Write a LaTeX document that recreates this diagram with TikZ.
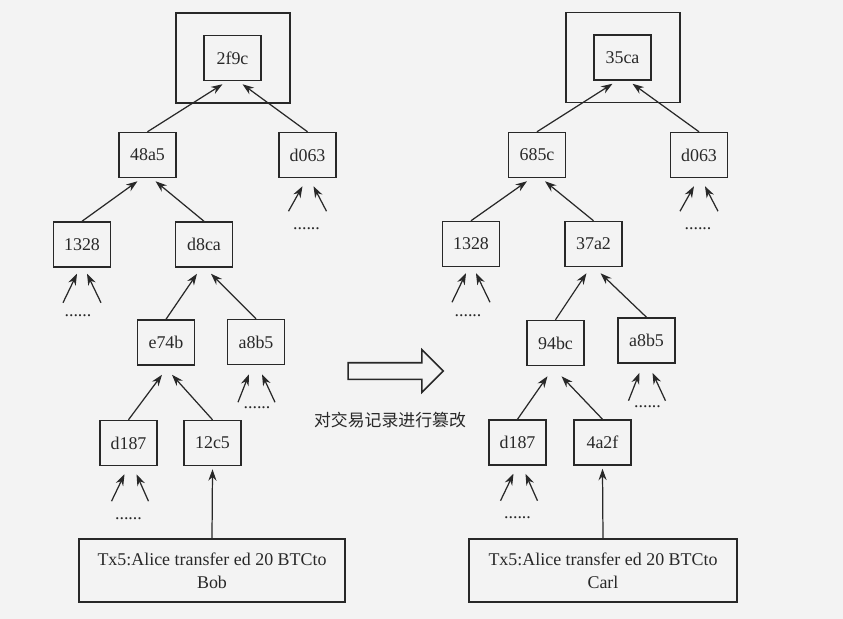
\documentclass[tikz,border=0pt]{standalone}
\usepackage{fontspec}
\setmainfont{Liberation Serif}
\newfontfamily\cjkfont{Noto Sans CJK SC}
\usetikzlibrary{arrows.meta,calc,shapes.arrows}
\definecolor{InkGray}{RGB}{40,40,40}
\definecolor{PaperGray}{RGB}{243,243,243}

\begin{document}
\begin{tikzpicture}[x=0.02cm, y=-0.02cm,
  every node/.style={font=\fontsize{10.2}{13}\selectfont, align=center, text=InkGray},
  hashbox/.style={draw=InkGray, line width=0.85pt, minimum width=1.14cm,
        minimum height=0.9cm, inner sep=0pt},
  rootbox/.style={draw=InkGray, line width=0.85pt, minimum width=2.28cm,
        minimum height=1.8cm, inner sep=0pt},
  txbox/.style={draw=InkGray, line width=0.85pt, minimum width=5.32cm,
        minimum height=1.26cm},
  link/.style={-{Stealth[length=6.5pt,width=4.6pt]}, line width=0.7pt, InkGray},
  dots/.style={anchor=base, inner sep=0pt}]
  \fill[PaperGray] (0,0) rectangle (843,619);
  \useasboundingbox (0,0) rectangle (843,619);

  % left tree: original record
  \node[rootbox] (Lroot) at (233,58) {};
  \node[hashbox] (L2f9c) at (232.5,58) {2f9c};
  \node[hashbox] (L48a5) at (147.5,155) {48a5};
  \node[hashbox] (Ld063) at (307.5,155) {d063};
  \node[hashbox] (L1328) at (82,244.5) {1328};
  \node[hashbox] (Ld8ca) at (204,244.5) {d8ca};
  \node[hashbox] (Le74b) at (166,342.5) {e74b};
  \node[hashbox] (La8b5) at (256,342) {a8b5};
  \node[hashbox] (Ld187) at (128.5,443) {d187};
  \node[hashbox] (L12c5) at (212.5,443) {12c5};
  \node[txbox] (Ltx) at (212,570.5) {Tx5:Alice transfer ed 20 BTCto\\Bob};

  \draw[link] (L48a5.north) -- ($(L2f9c.south)+(-10,3)$);
  \draw[link] (Ld063.north) -- ($(L2f9c.south)+(10,3)$);
  \draw[link] (L1328.north) -- ($(L48a5.south)+(-10,3)$);
  \draw[link] (Ld8ca.north) -- ($(L48a5.south)+(8,3)$);
  \draw[link] (Le74b.north) -- ($(Ld8ca.south)+(-7,6)$);
  \draw[link] (La8b5.north) -- ($(Ld8ca.south)+(7,6)$);
  \draw[link] (Ld187.north) -- ($(Le74b.south)+(-4,9)$);
  \draw[link] (L12c5.north) -- ($(Le74b.south)+(6,9)$);
  \draw[link] (Ltx.north) -- ($(L12c5.south)+(0,3)$);

  \draw[link] ($(Ld063.south)+(-19,33)$) -- ($(Ld063.south)+(-5,8)$);
  \draw[link] ($(Ld063.south)+(19,33)$) -- ($(Ld063.south)+(6,8)$);
  \draw[link] ($(L1328.south)+(-19,35)$) -- ($(L1328.south)+(-5,6)$);
  \draw[link] ($(L1328.south)+(19,35)$) -- ($(L1328.south)+(5,6)$);
  \draw[link] ($(La8b5.south)+(-18,37)$) -- ($(La8b5.south)+(-7,9)$);
  \draw[link] ($(La8b5.south)+(19,37)$) -- ($(La8b5.south)+(6,9)$);
  \draw[link] ($(Ld187.south)+(-17,35)$) -- ($(Ld187.south)+(-4,8)$);
  \draw[link] ($(Ld187.south)+(20,35)$) -- ($(Ld187.south)+(8,8)$);

  \node[dots] (Ld063dots) at ($(Ld063.south)+(-1,51)$) {......};
  \node[dots] (L1328dots) at ($(L1328.south)+(-4,49)$) {......};
  \node[dots] (La8b5dots) at ($(La8b5.south)+(1,43)$) {......};
  \node[dots] (Ld187dots) at ($(Ld187.south)+(0,53)$) {......};

  % tampering step
  \node[single arrow, draw=InkGray, line width=0.9pt, minimum height=1.9cm,
        single arrow head extend=0.26cm, inner sep=0.15cm] (tamper) at (391.5,371) {};
  \node[font=\cjkfont\fontsize{9.6}{12}\selectfont] (tamperlabel) at (390,420)
        {对交易记录进行篡改};

  % right tree: tampered record
  \node[rootbox] (Rroot) at (623,57.5) {};
  \node[hashbox] (R35ca) at (622.5,57.5) {35ca};
  \node[hashbox] (R685c) at (537,155) {685c};
  \node[hashbox] (Rd063) at (699,155) {d063};
  \node[hashbox] (R1328) at (471,244) {1328};
  \node[hashbox] (R37a2) at (593.5,244) {37a2};
  \node[hashbox] (R94bc) at (555.5,343) {94bc};
  \node[hashbox] (Ra8b5) at (646.5,340.5) {a8b5};
  \node[hashbox] (Rd187) at (517.5,442.5) {d187};
  \node[hashbox] (R4a2f) at (602.5,442.5) {4a2f};
  \node[txbox, minimum width=5.36cm] (Rtx) at (603,570.5)
        {Tx5:Alice transfer ed 20 BTCto\\Carl};

  \draw[link] (R685c.north) -- ($(R35ca.south)+(-10,3)$);
  \draw[link] (Rd063.north) -- ($(R35ca.south)+(10,3)$);
  \draw[link] (R1328.north) -- ($(R685c.south)+(-10,3)$);
  \draw[link] (R37a2.north) -- ($(R685c.south)+(8,3)$);
  \draw[link] (R94bc.north) -- ($(R37a2.south)+(-7,6)$);
  \draw[link] (Ra8b5.north) -- ($(R37a2.south)+(7,6)$);
  \draw[link] (Rd187.north) -- ($(R94bc.south)+(-8,10)$);
  \draw[link] (R4a2f.north) -- ($(R94bc.south)+(6,10)$);
  \draw[link] (Rtx.north) -- ($(R4a2f.south)+(0,3)$);

  \draw[link] ($(Rd063.south)+(-19,33)$) -- ($(Rd063.south)+(-5,8)$);
  \draw[link] ($(Rd063.south)+(19,33)$) -- ($(Rd063.south)+(6,8)$);
  \draw[link] ($(R1328.south)+(-19,35)$) -- ($(R1328.south)+(-5,6)$);
  \draw[link] ($(R1328.south)+(19,35)$) -- ($(R1328.south)+(5,6)$);
  \draw[link] ($(Ra8b5.south)+(-18,37)$) -- ($(Ra8b5.south)+(-7,9)$);
  \draw[link] ($(Ra8b5.south)+(19,37)$) -- ($(Ra8b5.south)+(6,9)$);
  \draw[link] ($(Rd187.south)+(-17,35)$) -- ($(Rd187.south)+(-4,8)$);
  \draw[link] ($(Rd187.south)+(20,35)$) -- ($(Rd187.south)+(8,8)$);

  \node[dots] (Rd063dots) at ($(Rd063.south)+(-1,51)$) {......};
  \node[dots] (R1328dots) at ($(R1328.south)+(-3,49)$) {......};
  \node[dots] (Ra8b5dots) at ($(Ra8b5.south)+(1,44)$) {......};
  \node[dots] (Rd187dots) at ($(Rd187.south)+(0,53)$) {......};
\end{tikzpicture}
\end{document}
